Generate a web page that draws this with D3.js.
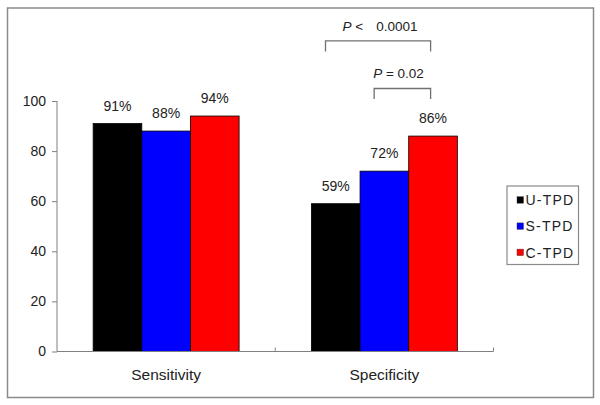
<!DOCTYPE html>
<html>
<head>
<meta charset="utf-8">
<script src="https://cdn.jsdelivr.net/npm/d3@7"></script>
<style>
  html, body { margin: 0; padding: 0; background: #fff; }
  svg { display: block; font-family: Arial, "Liberation Sans", sans-serif; }
</style>
</head>
<body>
<svg id="chart" width="600" height="405"></svg>
<script>
// ---- data ----
const categories = ["Sensitivity", "Specificity"];
const seriesNames = ["U-TPD", "S-TPD", "C-TPD"];
const seriesColors = ["#000000", "#0000ff", "#ff0000"];
const uTPD = [91, 59];
const sTPD = [88, 72];
const cTPD = [94, 86];
const yTicks = [0, 20, 40, 60, 80, 100];
const comparisons = [
  { category: "Specificity", from: "U-TPD", to: "C-TPD", op: "<", p: "0.0001" },
  { category: "Specificity", from: "S-TPD", to: "C-TPD", op: "=", p: "0.02" }
];

const seriesValues = [uTPD, sTPD, cTPD];
const rows = [];
categories.forEach((c, ci) => seriesNames.forEach((s, si) => rows.push({ cat: c, series: s, value: seriesValues[si][ci], color: seriesColors[si] })));

// ---- layout ----
const svg = d3.select("#chart");
const axisColor = "#808080";
const textColor = "#222";

// outer frame
svg.append("rect").attr("x", 7.5).attr("y", 8).attr("width", 586).attr("height", 389.5)
  .attr("fill", "none").attr("stroke", "#8a8a8a").attr("stroke-width", 1.5);

const x0 = d3.scaleBand().domain(categories).range([57, 493.5]).paddingInner(0).paddingOuter(0);
const x1 = d3.scaleBand().domain(seriesNames).range([0, x0.bandwidth()]).paddingInner(0).paddingOuter(0.743);
const y = d3.scaleLinear().domain([0, 100]).range([351.5, 101]);

// bars
svg.append("g").selectAll("rect").data(rows).join("rect")
  .attr("x", d => x0(d.cat) + x1(d.series))
  .attr("y", d => y(d.value))
  .attr("width", x1.bandwidth())
  .attr("height", d => y(0) - y(d.value))
  .attr("fill", d => d.color)
  .attr("stroke", "#000").attr("stroke-width", 0.8);

// value labels
svg.append("g").selectAll("text").data(rows).join("text")
  .attr("x", d => x0(d.cat) + x1(d.series) + x1.bandwidth() / 2)
  .attr("y", d => y(d.value) - 13)
  .attr("text-anchor", "middle")
  .attr("font-size", 14).attr("fill", textColor)
  .text(d => d.value + "%");

// y axis
const yAxis = svg.append("g").attr("transform", "translate(57,0)")
  .call(d3.axisLeft(y).tickValues(yTicks).tickSize(5).tickPadding(6));
yAxis.select(".domain").attr("stroke", axisColor).attr("d", `M-0,${y(100)}V${y(0)}`);
yAxis.selectAll(".tick line").attr("stroke", axisColor);
yAxis.selectAll(".tick text").attr("font-size", 14).attr("fill", textColor)
  .attr("font-family", "Arial, 'Liberation Sans', sans-serif");

// x axis: line with inward ticks at category boundaries
const xAxisG = svg.append("g").attr("transform", `translate(0,${y(0)})`);
xAxisG.append("line").attr("x1", 57).attr("x2", 493.5).attr("stroke", axisColor);
const boundaries = categories.map(c => x0(c)).concat([x0(categories[categories.length - 1]) + x0.bandwidth()]);
xAxisG.selectAll("line.tk").data(boundaries.slice(1)).join("line").attr("class", "tk")
  .attr("x1", d => d).attr("x2", d => d).attr("y1", 0).attr("y2", -4).attr("stroke", axisColor);
xAxisG.selectAll("text").data(categories).join("text")
  .attr("x", d => x0(d) + x0.bandwidth() / 2)
  .attr("y", 28.5)
  .attr("text-anchor", "middle").attr("font-size", 15.5).attr("fill", textColor)
  .text(d => d);

// significance brackets
const bracketLevels = [124, 105];
comparisons.forEach((cmp, i) => {
  const xl = x0(cmp.category) + x1(cmp.from) + x1.bandwidth() * 0.29;
  const xr = x0(cmp.category) + x1(cmp.to) + x1.bandwidth() * 0.45;
  const yl = y(bracketLevels[i]);
  svg.append("path")
    .attr("d", `M${xl},${yl + 10.5}V${yl}H${xr}V${yl + 10.5}`)
    .attr("fill", "none").attr("stroke", "#707070").attr("stroke-width", 1.3);
  const t = svg.append("text")
    .attr("y", yl - 10.3)
    .attr("font-size", 13.5).attr("fill", textColor)
    .attr("xml:space", "preserve");
  if (cmp.op === "<") {
    t.attr("x", xl + 17);
    t.append("tspan").attr("font-style", "italic").text("P");
    t.append("tspan").text(" <");
    t.append("tspan").attr("dx", 13).text(cmp.p);
  } else {
    t.attr("x", xl - 1);
    t.append("tspan").attr("font-style", "italic").text("P");
    t.append("tspan").text(" = " + cmp.p);
  }
});

// legend
const legend = svg.append("g");
legend.append("rect").attr("x", 507).attr("y", 186).attr("width", 71.5).attr("height", 78.5)
  .attr("fill", "#fff").attr("stroke", "#8a8a8a").attr("stroke-width", 1.2);
const li = legend.selectAll("g.item").data(seriesNames).join("g").attr("class", "item")
  .attr("transform", (d, i) => `translate(517,${200 + i * 26.2})`);
li.append("rect").attr("x", 0).attr("y", -3.3).attr("width", 6.5).attr("height", 6.5)
  .attr("fill", (d, i) => seriesColors[i]).attr("stroke", "#333").attr("stroke-width", 0.4);
li.append("text").attr("x", 8.5).attr("y", 5.2)
  .attr("font-size", 14).attr("letter-spacing", 1.2).attr("fill", textColor)
  .text(d => d);
</script>
</body>
</html>
